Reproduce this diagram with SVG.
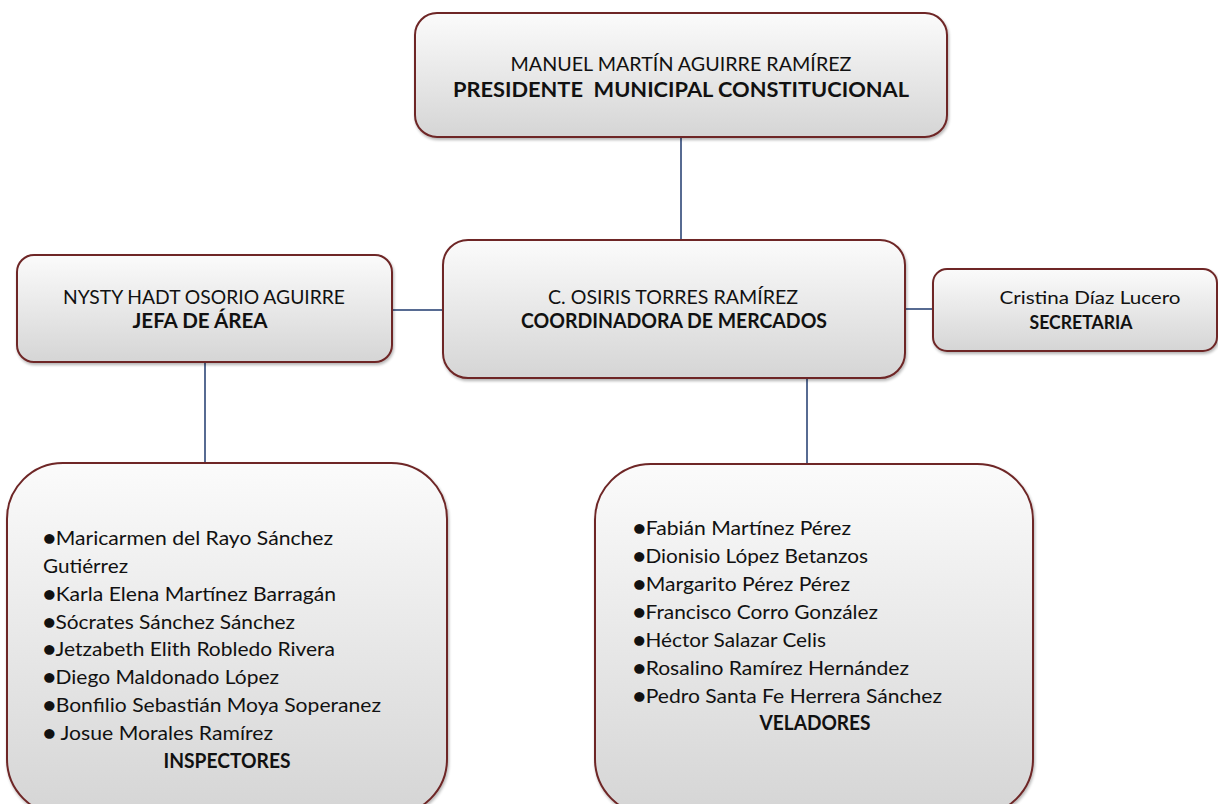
<svg xmlns="http://www.w3.org/2000/svg" width="1218" height="804" viewBox="0 0 1218 804">
<defs>
<linearGradient id="g" x1="0" y1="0" x2="0" y2="1">
<stop offset="0" stop-color="#fbfbfb"/>
<stop offset="1" stop-color="#d5d5d5"/>
</linearGradient>
<filter id="sh" x="-5%" y="-5%" width="110%" height="115%">
<feGaussianBlur in="SourceAlpha" stdDeviation="1.5"/>
<feOffset dx="1" dy="2" result="b"/>
<feComponentTransfer><feFuncA type="linear" slope="0.3"/></feComponentTransfer>
<feMerge><feMergeNode/><feMergeNode in="SourceGraphic"/></feMerge>
</filter>
</defs>
<style>
.box{fill:url(#g);stroke:#6e2626;stroke-width:2;filter:url(#sh)}
.c{stroke:#1f3a6e;stroke-width:1.5;fill:none}
text{font-family:Lato,"Open Sans","Liberation Sans",sans-serif;fill:#111;font-size:20px}
.b{font-weight:bold}
.m{text-anchor:middle}
.s{font-size:18px}
</style>
<g id="connectors">
<line class="c" x1="681" y1="137" x2="681" y2="240"/>
<line class="c" x1="392" y1="310" x2="443" y2="310"/>
<line class="c" x1="905" y1="309" x2="933" y2="309"/>
<line class="c" x1="205" y1="362" x2="205" y2="463"/>
<line class="c" x1="807" y1="378" x2="807" y2="464"/>
</g>
<g id="presidente">
<rect class="box" x="415" y="13" width="532" height="124" rx="22"/>
<text class="m" x="681" y="71" textLength="341" lengthAdjust="spacingAndGlyphs">MANUEL MARTÍN AGUIRRE RAMÍREZ</text>
<text class="m b" x="681" y="97" textLength="456" lengthAdjust="spacingAndGlyphs" xml:space="preserve">PRESIDENTE  MUNICIPAL CONSTITUCIONAL</text>
</g>
<g id="coordinadora">
<rect class="box" x="443" y="240" width="462" height="138" rx="25"/>
<text class="m" x="673" y="304" textLength="250" lengthAdjust="spacingAndGlyphs">C. OSIRIS TORRES RAMÍREZ</text>
<text class="m b" x="674" y="328" textLength="306" lengthAdjust="spacingAndGlyphs">COORDINADORA DE MERCADOS</text>
</g>
<g id="jefa">
<rect class="box" x="17" y="255" width="375" height="107" rx="17"/>
<text class="m" x="204" y="304" textLength="282" lengthAdjust="spacingAndGlyphs">NYSTY HADT OSORIO AGUIRRE</text>
<text class="m b" x="200" y="328" textLength="135" lengthAdjust="spacingAndGlyphs">JEFA DE ÁREA</text>
</g>
<g id="secretaria">
<rect class="box" x="933" y="269" width="284" height="82" rx="14"/>
<text class="m s" x="1090" y="304" textLength="181" lengthAdjust="spacingAndGlyphs">Cristina Díaz Lucero</text>
<text class="m b s" x="1081" y="329" textLength="103" lengthAdjust="spacingAndGlyphs">SECRETARIA</text>
</g>
<g id="inspectores">
<rect class="box" x="7" y="463" width="440" height="352" rx="56"/>
<text x="43" y="545" textLength="290" lengthAdjust="spacingAndGlyphs">●Maricarmen del Rayo Sánchez</text>
<text x="43" y="573" textLength="85" lengthAdjust="spacingAndGlyphs">Gutiérrez</text>
<text x="43" y="601" textLength="293" lengthAdjust="spacingAndGlyphs">●Karla Elena Martínez Barragán</text>
<text x="43" y="629" textLength="252" lengthAdjust="spacingAndGlyphs">●Sócrates Sánchez Sánchez</text>
<text x="43" y="656" textLength="292" lengthAdjust="spacingAndGlyphs">●Jetzabeth Elith Robledo Rivera</text>
<text x="43" y="684" textLength="236" lengthAdjust="spacingAndGlyphs">●Diego Maldonado López</text>
<text x="43" y="712" textLength="338" lengthAdjust="spacingAndGlyphs">●Bonfilio Sebastián Moya Soperanez</text>
<text x="43" y="740" textLength="230" lengthAdjust="spacingAndGlyphs">● Josue Morales Ramírez</text>
<text class="m b" x="227" y="768" textLength="127" lengthAdjust="spacingAndGlyphs">INSPECTORES</text>
</g>
<g id="veladores">
<rect class="box" x="595" y="464" width="438" height="351" rx="56"/>
<text x="633" y="535" textLength="218" lengthAdjust="spacingAndGlyphs">●Fabián Martínez Pérez</text>
<text x="633" y="563" textLength="235" lengthAdjust="spacingAndGlyphs">●Dionisio López Betanzos</text>
<text x="633" y="591" textLength="217" lengthAdjust="spacingAndGlyphs">●Margarito Pérez Pérez</text>
<text x="633" y="619" textLength="245" lengthAdjust="spacingAndGlyphs">●Francisco Corro González</text>
<text x="633" y="647" textLength="193" lengthAdjust="spacingAndGlyphs">●Héctor Salazar Celis</text>
<text x="633" y="675" textLength="276" lengthAdjust="spacingAndGlyphs">●Rosalino Ramírez Hernández</text>
<text x="633" y="703" textLength="309" lengthAdjust="spacingAndGlyphs">●Pedro Santa Fe Herrera Sánchez</text>
<text class="m b" x="815" y="730" textLength="111" lengthAdjust="spacingAndGlyphs">VELADORES</text>
</g>
</svg>
